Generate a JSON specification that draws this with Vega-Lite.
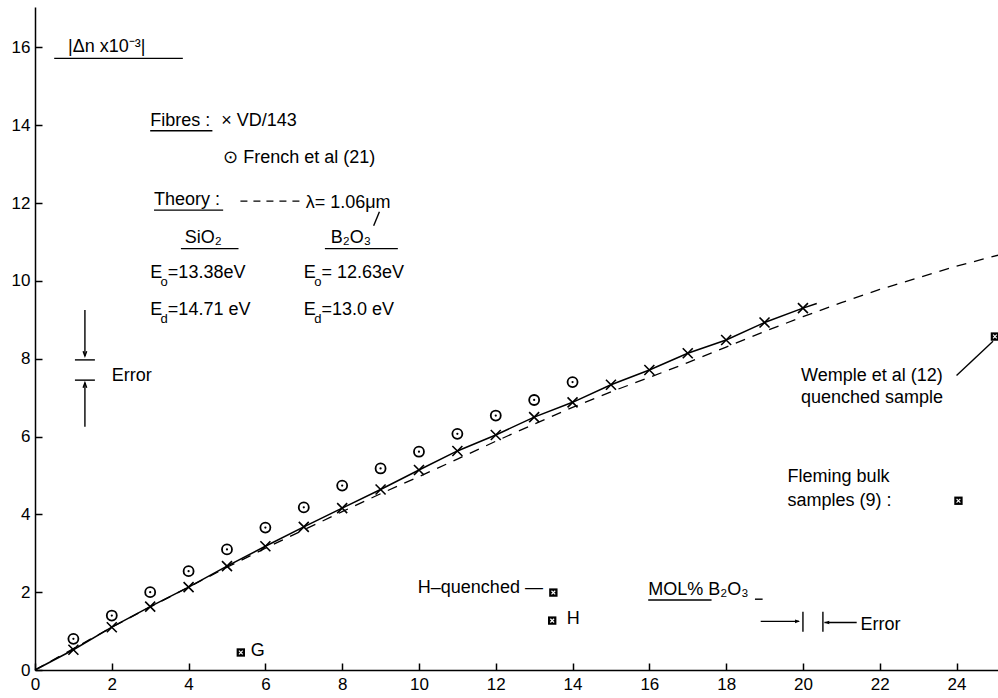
{
  "$schema": "https://vega.github.io/schema/vega-lite/v6.json",
  "width": 963,
  "height": 663,
  "autosize": {"type": "none"},
  "padding": {"left": 35, "top": 7, "right": 0, "bottom": 28},
  "background": "white",
  "config": {"view": {"stroke": null}, "font": "Liberation Sans"},
  "datasets": {
    "vd": [
      {"x": 1, "y": 0.52}, {"x": 2, "y": 1.1}, {"x": 3, "y": 1.63}, {"x": 4, "y": 2.13},
      {"x": 5, "y": 2.67}, {"x": 6, "y": 3.18}, {"x": 7, "y": 3.68}, {"x": 8, "y": 4.16},
      {"x": 9, "y": 4.64}, {"x": 10, "y": 5.14}, {"x": 11, "y": 5.63}, {"x": 12, "y": 6.04},
      {"x": 13, "y": 6.5}, {"x": 14, "y": 6.88}, {"x": 15, "y": 7.33}, {"x": 16, "y": 7.71},
      {"x": 17, "y": 8.14}, {"x": 18, "y": 8.48}, {"x": 19, "y": 8.93}, {"x": 20, "y": 9.3}
    ],
    "french": [
      {"x": 1, "y": 0.8}, {"x": 2, "y": 1.4}, {"x": 3, "y": 2.0}, {"x": 4, "y": 2.54},
      {"x": 5, "y": 3.1}, {"x": 6, "y": 3.66}, {"x": 7, "y": 4.18}, {"x": 8, "y": 4.74},
      {"x": 9, "y": 5.18}, {"x": 10, "y": 5.61}, {"x": 11, "y": 6.07}, {"x": 12, "y": 6.54},
      {"x": 13, "y": 6.94}, {"x": 14, "y": 7.4}
    ],
    "fit": [
      {"x": 0, "y": 0}, {"x": 1, "y": 0.52}, {"x": 2, "y": 1.1}, {"x": 3, "y": 1.63}, {"x": 4, "y": 2.13},
      {"x": 5, "y": 2.67}, {"x": 6, "y": 3.18}, {"x": 7, "y": 3.68}, {"x": 8, "y": 4.16},
      {"x": 9, "y": 4.64}, {"x": 10, "y": 5.14}, {"x": 11, "y": 5.63}, {"x": 12, "y": 6.04},
      {"x": 13, "y": 6.5}, {"x": 14, "y": 6.88}, {"x": 15, "y": 7.33}, {"x": 16, "y": 7.71},
      {"x": 17, "y": 8.14}, {"x": 18, "y": 8.48}, {"x": 19, "y": 8.93}, {"x": 20, "y": 9.3},
      {"x": 20.36, "y": 9.42}
    ],
    "theory": [
      {"x": 0, "y": 0}, {"x": 1, "y": 0.55}, {"x": 2, "y": 1.1}, {"x": 3, "y": 1.62}, {"x": 4, "y": 2.13},
      {"x": 5, "y": 2.64}, {"x": 6, "y": 3.13}, {"x": 7, "y": 3.6}, {"x": 8, "y": 4.07},
      {"x": 9, "y": 4.53}, {"x": 10, "y": 4.97}, {"x": 11, "y": 5.42}, {"x": 12, "y": 5.88},
      {"x": 13, "y": 6.32}, {"x": 14, "y": 6.75}, {"x": 15, "y": 7.15}, {"x": 16, "y": 7.52},
      {"x": 17, "y": 7.9}, {"x": 18, "y": 8.3}, {"x": 19, "y": 8.7}, {"x": 20, "y": 9.08},
      {"x": 21, "y": 9.44}, {"x": 22, "y": 9.78}, {"x": 23, "y": 10.08}, {"x": 24, "y": 10.38},
      {"x": 25.08, "y": 10.66}
    ],
    "samples": [
      {"x": 5.36, "y": 0.45, "name": "G"},
      {"x": 13.5, "y": 1.99, "name": "H-quenched"},
      {"x": 13.47, "y": 1.27, "name": "H"},
      {"x": 25.0, "y": 8.57, "name": "Wemple"},
      {"x": 24.05, "y": 4.35, "name": "Fleming"}
    ],
    "labels": [
      {"x": 0.86, "y": 16.0, "t": "|Δn x10⁻³|"},
      {"x": 3.0, "y": 14.12, "t": "Fibres :"},
      {"x": 4.85, "y": 14.12, "t": "× VD/143"},
      {"x": 4.9, "y": 13.15, "t": "⊙ French et al (21)"},
      {"x": 3.1, "y": 12.08, "t": "Theory :"},
      {"x": 7.05, "y": 12.0, "t": "λ= 1.06μm"},
      {"x": 3.9, "y": 11.1, "t": "SiO₂"},
      {"x": 7.7, "y": 11.1, "t": "B₂O₃"},
      {"x": 3.0, "y": 10.2, "t": "E"},
      {"x": 3.46, "y": 10.2, "t": "=13.38eV"},
      {"x": 7.0, "y": 10.2, "t": "E"},
      {"x": 7.46, "y": 10.2, "t": "= 12.63eV"},
      {"x": 3.0, "y": 9.25, "t": "E"},
      {"x": 3.46, "y": 9.25, "t": "=14.71 eV"},
      {"x": 7.0, "y": 9.25, "t": "E"},
      {"x": 7.46, "y": 9.25, "t": "=13.0 eV"},
      {"x": 2.0, "y": 7.55, "t": "Error"},
      {"x": 19.95, "y": 7.55, "t": "Wemple et al (12)"},
      {"x": 19.95, "y": 7.0, "t": "quenched sample"},
      {"x": 19.6, "y": 4.95, "t": "Fleming bulk"},
      {"x": 19.6, "y": 4.35, "t": "samples (9) :"},
      {"x": 9.97, "y": 2.1, "t": "H–quenched —"},
      {"x": 13.85, "y": 1.3, "t": "H"},
      {"x": 15.97, "y": 2.05, "t": "MOL% B₂O₃"},
      {"x": 21.5, "y": 1.15, "t": "Error"},
      {"x": 5.62, "y": 0.5, "t": "G"}
    ],
    "subs": [
      {"x": 3.27, "y": 9.96, "t": "o"},
      {"x": 7.27, "y": 9.96, "t": "o"},
      {"x": 3.27, "y": 9.01, "t": "d"},
      {"x": 7.27, "y": 9.01, "t": "d"}
    ],
    "segments": [
      {"x": 0.5, "y": 15.72, "x2": 3.85, "y2": 15.72},
      {"x": 3.0, "y": 13.86, "x2": 4.62, "y2": 13.86},
      {"x": 3.1, "y": 11.82, "x2": 4.9, "y2": 11.82},
      {"x": 3.8, "y": 10.83, "x2": 5.3, "y2": 10.83},
      {"x": 7.55, "y": 10.83, "x2": 9.45, "y2": 10.83},
      {"x": 8.97, "y": 11.78, "x2": 8.82, "y2": 11.42},
      {"x": 1.3, "y": 9.25, "x2": 1.3, "y2": 8.07},
      {"x": 1.04, "y": 7.97, "x2": 1.56, "y2": 7.97},
      {"x": 1.04, "y": 7.45, "x2": 1.56, "y2": 7.45},
      {"x": 1.3, "y": 6.25, "x2": 1.3, "y2": 7.38},
      {"x": 24.0, "y": 7.57, "x2": 24.95, "y2": 8.45},
      {"x": 15.97, "y": 1.8, "x2": 17.62, "y2": 1.8},
      {"x": 18.75, "y": 1.82, "x2": 18.95, "y2": 1.82},
      {"x": 18.9, "y": 1.25, "x2": 19.9, "y2": 1.25},
      {"x": 20.0, "y": 0.98, "x2": 20.0, "y2": 1.5},
      {"x": 20.52, "y": 0.98, "x2": 20.52, "y2": 1.5},
      {"x": 21.4, "y": 1.22, "x2": 20.56, "y2": 1.22}
    ],
    "dashsegs": [
      {"x": 5.35, "y": 12.05, "x2": 7.0, "y2": 12.05}
    ],
    "heads": [
      {"x": 1.3, "y": 8.07, "dir": "down"},
      {"x": 1.3, "y": 7.38, "dir": "up"},
      {"x": 19.92, "y": 1.25, "dir": "right"},
      {"x": 20.56, "y": 1.22, "dir": "left"}
    ]
  },
  "encoding": {
    "x": {
      "field": "x", "type": "quantitative",
      "scale": {"domain": [0, 25.08], "nice": false, "zero": false},
      "axis": {
        "values": [0, 2, 4, 6, 8, 10, 12, 14, 16, 18, 20, 22, 24],
        "title": null, "grid": false, "tickSize": -7, "labelPadding": 13,
        "domainColor": "black", "domainWidth": 1.5, "tickColor": "black", "tickWidth": 1.5,
        "labelColor": "black", "labelFontSize": 17, "labelFont": "Liberation Sans",
        "labelFlush": false, "labelOverlap": false
      }
    },
    "y": {
      "field": "y", "type": "quantitative",
      "scale": {"domain": [0, 17.04], "nice": false, "zero": false},
      "axis": {
        "values": [0, 2, 4, 6, 8, 10, 12, 14, 16],
        "title": null, "grid": false, "tickSize": -7, "labelPadding": 12,
        "domainColor": "black", "domainWidth": 1.5, "tickColor": "black", "tickWidth": 1.5,
        "labelColor": "black", "labelFontSize": 17, "labelFont": "Liberation Sans",
        "labelFlush": false, "labelOverlap": false
      }
    }
  },
  "layer": [
    {
      "data": {"name": "theory"},
      "mark": {"type": "line", "stroke": "black", "strokeWidth": 1.3, "strokeDash": [10, 8], "clip": true},
      "encoding": {}
    },
    {
      "data": {"name": "fit"},
      "mark": {"type": "line", "stroke": "black", "strokeWidth": 1.5},
      "encoding": {}
    },
    {
      "data": {"name": "vd"},
      "mark": {"type": "point", "shape": "M-1,-1L1,1M-1,1L1,-1", "size": 100, "filled": false, "stroke": "black", "strokeWidth": 1.6, "opacity": 1}
    },
    {
      "data": {"name": "french"},
      "mark": {"type": "point", "shape": "circle", "size": 100, "filled": false, "stroke": "black", "strokeWidth": 1.8, "opacity": 1}
    },
    {
      "data": {"name": "french"},
      "mark": {"type": "point", "shape": "circle", "size": 5, "filled": true, "color": "black", "opacity": 1}
    },
    {
      "data": {"name": "samples"},
      "mark": {"type": "point", "shape": "square", "size": 70, "filled": true, "color": "black", "opacity": 1}
    },
    {
      "data": {"name": "samples"},
      "mark": {"type": "point", "shape": "M-1,-1L1,1M-1,1L1,-1", "size": 14, "filled": false, "stroke": "white", "strokeWidth": 1.2, "opacity": 1}
    },
    {
      "data": {"name": "segments"},
      "mark": {"type": "rule", "stroke": "black", "strokeWidth": 1.4},
      "encoding": {
        "x2": {"field": "x2"},
        "y2": {"field": "y2"}
      }
    },
    {
      "data": {"name": "dashsegs"},
      "mark": {"type": "rule", "stroke": "black", "strokeWidth": 1.3, "strokeDash": [7, 6]},
      "encoding": {
        "x2": {"field": "x2"},
        "y2": {"field": "y2"}
      }
    },
    {
      "data": {"name": "heads"},
      "transform": [{"filter": "datum.dir === 'down'"}],
      "mark": {"type": "point", "shape": "M-0.6,-1.6L0,0L0.6,-1.6", "size": 36, "filled": false, "stroke": "black", "strokeWidth": 1.4, "opacity": 1}
    },
    {
      "data": {"name": "heads"},
      "transform": [{"filter": "datum.dir === 'up'"}],
      "mark": {"type": "point", "shape": "M-0.6,1.6L0,0L0.6,1.6", "size": 36, "filled": false, "stroke": "black", "strokeWidth": 1.4, "opacity": 1}
    },
    {
      "data": {"name": "heads"},
      "transform": [{"filter": "datum.dir === 'right'"}],
      "mark": {"type": "point", "shape": "M-1.6,-0.6L0,0L-1.6,0.6Z", "size": 36, "filled": true, "color": "black", "opacity": 1}
    },
    {
      "data": {"name": "heads"},
      "transform": [{"filter": "datum.dir === 'left'"}],
      "mark": {"type": "point", "shape": "M1.6,-0.6L0,0L1.6,0.6Z", "size": 36, "filled": true, "color": "black", "opacity": 1}
    },
    {
      "data": {"name": "labels"},
      "mark": {"type": "text", "align": "left", "baseline": "middle", "font": "Liberation Sans", "fontSize": 18, "color": "black"},
      "encoding": {"text": {"field": "t"}}
    },
    {
      "data": {"name": "subs"},
      "mark": {"type": "text", "align": "left", "baseline": "middle", "font": "Liberation Sans", "fontSize": 13, "color": "black"},
      "encoding": {"text": {"field": "t"}}
    }
  ]
}
